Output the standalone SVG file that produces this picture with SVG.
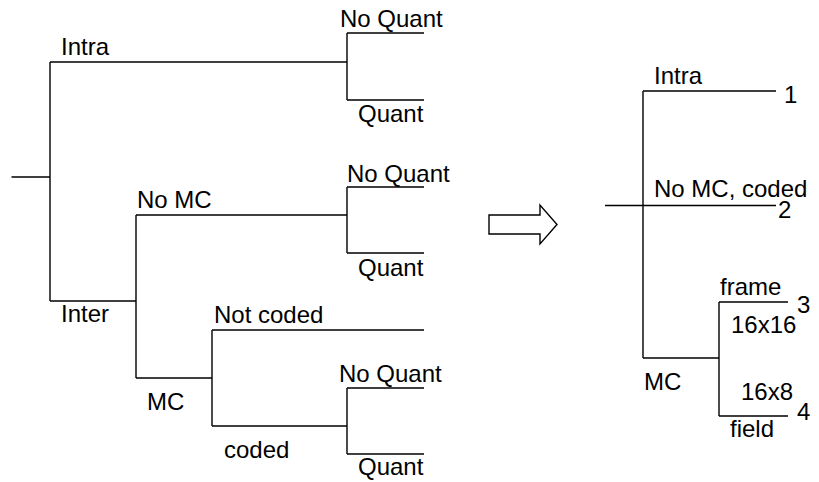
<svg xmlns="http://www.w3.org/2000/svg" width="819" height="482" viewBox="0 0 819 482">
  <style>
    .ln { stroke: #000; stroke-width: 1.4; fill: none; }
    .lb { font-family: "Liberation Sans", Arial, sans-serif; font-size: 24px; fill: #000; }
  </style>
  <rect width="819" height="482" fill="#fff"/>

  <g id="connectors">
    <!-- left tree -->
    <path class="ln" d="M11.5,177 H50 M50,62 V301 M50,62 H347 M50,301 H136"/>
    <path class="ln" d="M347,33 V100 M347,33 H424 M347,100 H424"/>
    <path class="ln" d="M136,215 V378 M136,215 H347 M136,378 H212"/>
    <path class="ln" d="M347,187 V253 M347,187 H424 M347,253 H424"/>
    <path class="ln" d="M212,330 V426 M212,330 H424 M212,426 H347"/>
    <path class="ln" d="M347,388 V454 M347,388 H424 M347,454 H424"/>
    <!-- right tree -->
    <path class="ln" d="M643,91 V358 M643,91 H776 M605,205.5 H776 M643,358 H719"/>
    <path class="ln" d="M719,302 V416 M719,302 H788 M719,416 H788"/>
  </g>

  <g id="arrow">
    <polygon class="ln" points="489,215 540,215 540,205 557,224.5 540,244 540,234 489,234"/>
  </g>

  <g id="left-intra"><text class="lb" x="61" y="55">Intra</text></g>
  <g id="left-intra-noquant"><text class="lb" x="340" y="27">No Quant</text></g>
  <g id="left-intra-quant"><text class="lb" x="358" y="122">Quant</text></g>
  <g id="left-inter"><text class="lb" x="61" y="322">Inter</text></g>
  <g id="left-nomc"><text class="lb" x="137" y="208">No MC</text></g>
  <g id="left-nomc-noquant"><text class="lb" x="347" y="182">No Quant</text></g>
  <g id="left-nomc-quant"><text class="lb" x="358" y="276">Quant</text></g>
  <g id="left-mc"><text class="lb" x="147" y="410">MC</text></g>
  <g id="left-notcoded"><text class="lb" x="214" y="323">Not coded</text></g>
  <g id="left-coded"><text class="lb" x="224" y="458">coded</text></g>
  <g id="left-coded-noquant"><text class="lb" x="339" y="382">No Quant</text></g>
  <g id="left-coded-quant"><text class="lb" x="358" y="475">Quant</text></g>

  <g id="right-intra"><text class="lb" x="654" y="84">Intra</text><text class="lb" x="784" y="103">1</text></g>
  <g id="right-nomc-coded"><text class="lb" x="654" y="197">No MC, coded</text><text class="lb" x="778" y="218">2</text></g>
  <g id="right-mc"><text class="lb" x="644" y="390">MC</text></g>
  <g id="right-frame"><text class="lb" x="720" y="295">frame</text><text class="lb" x="731" y="333">16x16</text><text class="lb" x="797" y="313">3</text></g>
  <g id="right-field"><text class="lb" x="741" y="400">16x8</text><text class="lb" x="730" y="437">field</text><text class="lb" x="797" y="420">4</text></g>
</svg>
